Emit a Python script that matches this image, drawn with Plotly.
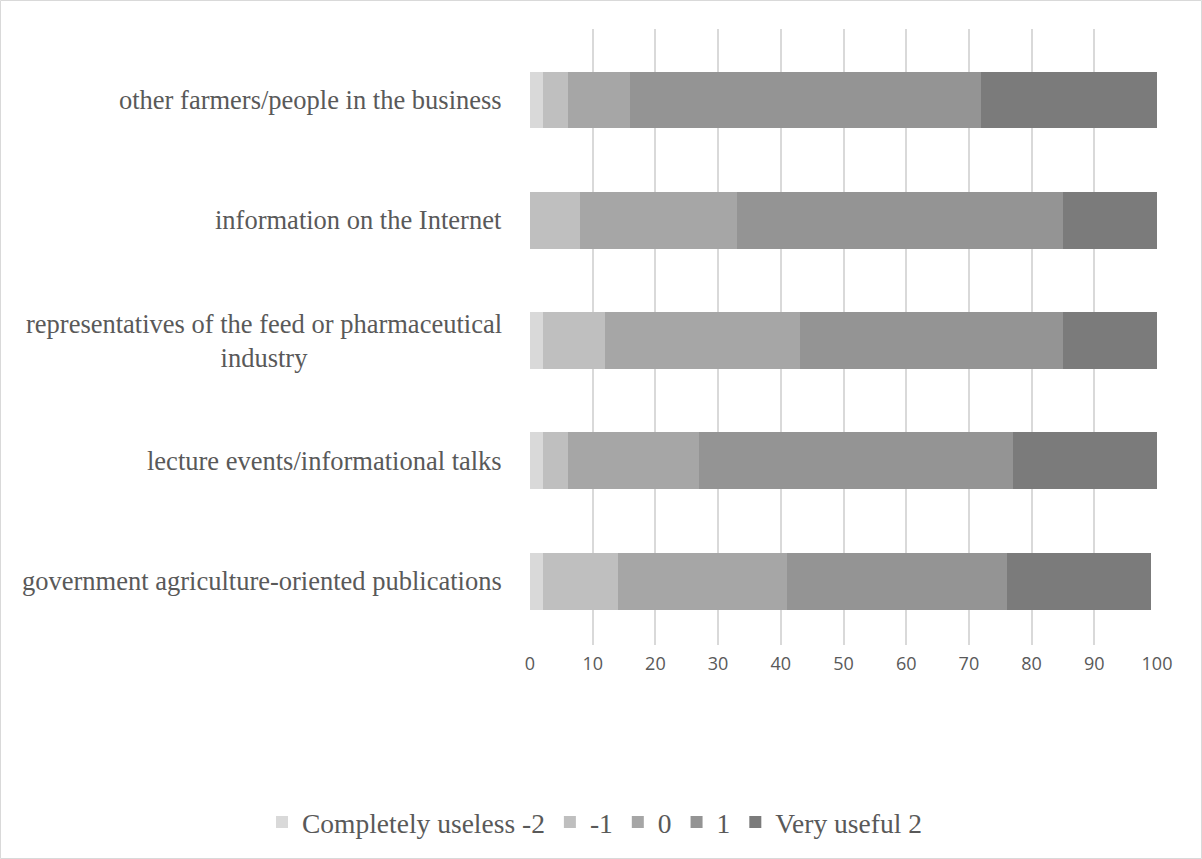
import plotly.graph_objects as go

categories = [
    "other farmers/people in the business",
    "information on the Internet",
    "representatives of the feed or pharmaceutical<br>industry",
    "lecture events/informational talks",
    "government agriculture-oriented publications",
]
series_names = ["Completely useless -2", "-1", "0", "1", "Very useful 2"]
useless_m2 = [2, 0, 2, 2, 2]
minus1 = [4, 8, 10, 4, 12]
zero = [10, 25, 31, 21, 27]
plus1 = [56, 52, 42, 50, 35]
useful_p2 = [28, 15, 15, 23, 23]
x_ticks = [0, 10, 20, 30, 40, 50, 60, 70, 80, 90, 100]

colors = ["#d9d9d9", "#bfbfbf", "#a6a6a6", "#949494", "#7b7b7b"]
values = [useless_m2, minus1, zero, plus1, useful_p2]

W, H = 1202, 859
L, R, T, B = 530, 45, 29, 214
pw, ph = W - L - R, H - T - B

serif = "Liberation Serif, Times New Roman, serif"

fig = go.Figure()
for name, vals, col in zip(series_names, values, colors):
    fig.add_trace(go.Bar(
        y=categories, x=vals, name=name, orientation="h",
        marker=dict(color=col, line=dict(width=0)),
    ))

for c in categories:
    fig.add_annotation(
        x=-26 / pw, xref="paper", y=c, yref="y",
        text=c, showarrow=False, xanchor="right", yanchor="middle",
        align="center",
        font=dict(family=serif, size=26.5, color="#595959"),
    )

# chart border
fig.add_shape(
    type="rect", xref="paper", yref="paper",
    x0=(-L + 0.5) / pw, x1=(W - L - 0.5) / pw,
    y0=(-B + 0.5) / ph, y1=(H - B - 0.5) / ph,
    line=dict(color="#d9d9d9", width=1), fillcolor="rgba(0,0,0,0)", layer="below",
)

fig.update_layout(
    width=W, height=H,
    margin=dict(l=L, r=R, t=T, b=B, pad=0, autoexpand=False),
    barmode="stack", bargap=0.527,
    plot_bgcolor="white", paper_bgcolor="white",
    showlegend=True,
    legend=dict(
        orientation="h", x=(262 - L) / pw, xref="paper", xanchor="left",
        y=(645 - 822) / ph, yref="paper", yanchor="middle",
        font=dict(family=serif, size=27.5, color="#595959"),
        traceorder="normal", bgcolor="rgba(0,0,0,0)",
    ),
    xaxis=dict(
        range=[0, 100], tickvals=x_ticks, showgrid=True, gridcolor="#d9d9d9", gridwidth=1.5,
        zeroline=False, showline=False, ticks="", ticklabelstandoff=6,
        tickfont=dict(family="Open Sans, sans-serif", size=18, color="#595959"),
    ),
    yaxis=dict(
        categoryorder="array", categoryarray=categories,
        range=[4.53, -0.59], showticklabels=False, showgrid=False,
        zeroline=False, showline=False, ticks="",
    ),
)

fig.write_html("out.html")
